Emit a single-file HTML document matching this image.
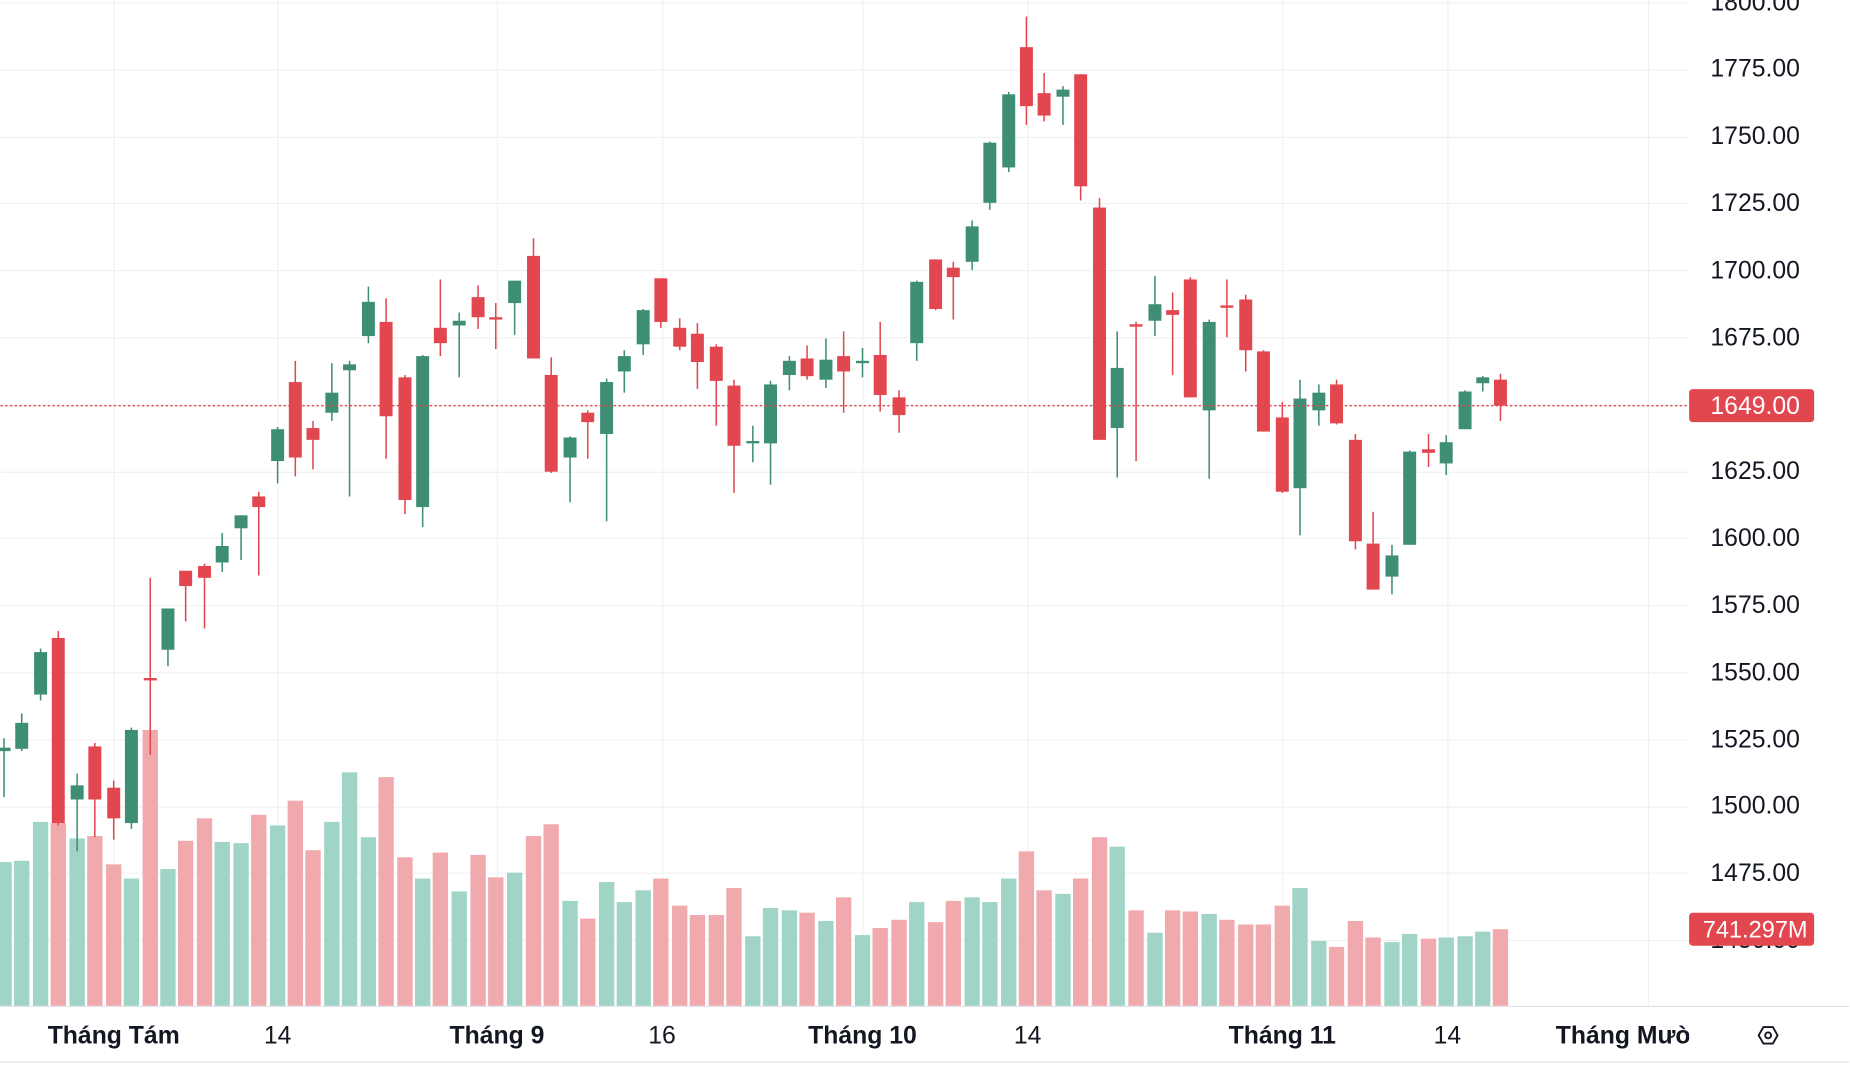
<!DOCTYPE html>
<html><head><meta charset="utf-8"><style>
html,body{margin:0;padding:0;background:#fff;}
svg{display:block;font-family:"Liberation Sans",sans-serif;}
</style></head><body>
<svg id="c" width="1850" height="1066" viewBox="0 0 1568 904" xmlns="http://www.w3.org/2000/svg">
<rect width="1568" height="904" fill="#fff"/>
<g id="grid" stroke="#f0f1f3" stroke-width="1"></g>
<g id="vol"></g>
<g id="cand"></g>
<line x1="0" y1="344" x2="1432" y2="344" stroke="#e2464f" stroke-width="1.2" stroke-dasharray="2,2"/>
<line x1="0" y1="853.5" x2="1568" y2="853.5" stroke="#e0e3eb"/>
<line x1="0" y1="900.5" x2="1568" y2="900.5" stroke="#e0e3eb"/>
<g font-size="21" fill="#131722" text-anchor="middle">
<text x="1488" y="9">1800.00</text>
<text x="1488" y="65">1775.00</text>
<text x="1488" y="122">1750.00</text>
<text x="1488" y="179">1725.00</text>
<text x="1488" y="236">1700.00</text>
<text x="1488" y="293">1675.00</text>
<text x="1488" y="406">1625.00</text>
<text x="1488" y="463">1600.00</text>
<text x="1488" y="520">1575.00</text>
<text x="1488" y="577">1550.00</text>
<text x="1488" y="634">1525.00</text>
<text x="1488" y="690">1500.00</text>
<text x="1488" y="747">1475.00</text>
<text x="1488" y="804">1450.00</text>
</g>
<rect x="1432" y="330" width="106" height="28" rx="3" fill="#e2464f"/>
<text x="1488" y="351" font-size="21" fill="#fff" text-anchor="middle">1649.00</text>
<rect x="1432" y="774" width="106" height="28" rx="3" fill="#e2464f"/>
<text x="1488" y="795" font-size="20" fill="#fff" text-anchor="middle">741.297M</text>
<g font-size="21" fill="#131722" text-anchor="middle">
<text x="96" y="885" font-weight="bold">Tháng Tám</text>
<text x="235" y="885">14</text>
<text x="421" y="885" font-weight="bold">Tháng 9</text>
<text x="561" y="885">16</text>
<text x="731" y="885" font-weight="bold">Tháng 10</text>
<text x="871" y="885">14</text>
<text x="1087" y="885" font-weight="bold">Tháng 11</text>
<text x="1227" y="885">14</text>
<text x="1380" y="885" font-weight="bold">Tháng Mười</text>
</g>
<rect x="1432" y="862" width="136" height="36" fill="#fff"/>
<polygon points="1491,878 1495,871 1503,871 1507,878 1503,885 1495,885" fill="none" stroke="#131722" stroke-width="1.6"/>
<circle cx="1499" cy="878" r="2.5" fill="none" stroke="#131722" stroke-width="1.6"/>
</svg>
<script>
var d=[
[3,'g',634,637,626,676,731],[18,'g',613,635,605,637,730],[34,'g',553,589,550,594,697],[49,'r',541,698,535,700,698],
[65,'g',666,678,656,722,711],[80,'r',633,678,630,710,709],[96,'r',668,694,662,712,733],[111,'g',619,698,617,703,745],
[127,'r',575,577,490,640,619],[142,'g',516,551,516,565,737],[157,'r',484,497,484,527,713],[173,'r',480,490,478,533,694],
[188,'g',463,477,452,485,714],[204,'g',437,448,437,475,715],[219,'r',421,430,417,488,691],[235,'g',364,391,362,410,700],
[250,'r',324,388,306,404,679],[265,'r',363,373,357,398,721],[281,'g',333,350,308,357,697],[296,'g',309,314,306,421,655],
[312,'g',256,285,243,291,710],[327,'r',273,353,253,389,659],[343,'r',320,424,318,436,727],[358,'g',302,430,301,447,745],
[373,'r',278,291,237,302,723],[389,'g',272,276,265,320,756],[405,'r',252,269,242,279,725],[420,'r',269,271,257,296,744],
[436,'g',238,257,238,284,740],[452,'r',217,304,202,304,709],[467,'r',318,400,303,401,699],[483,'g',371,388,370,426,764],
[498,'r',350,358,348,389,779],[514,'g',324,368,321,442,748],[529,'g',302,315,297,333,765],[545,'g',263,292,262,301,755],
[560,'r',236,273,236,278,745],[576,'r',278,294,270,297,768],[591,'r',283,307,274,330,776],[607,'r',294,323,292,361,776],
[622,'r',327,378,322,418,753],[638,'g',374,376,361,392,794],[653,'g',326,376,323,411,770],[669,'g',306,318,302,331,772],
[684,'r',304,319,293,322,774],[700,'g',305,322,287,329,781],[715,'r',302,315,281,350,761],[731,'g',306,308,295,320,793],
[746,'r',301,335,273,349,787],[762,'r',337,352,331,367,780],[777,'g',239,291,238,306,765],[793,'r',220,262,220,263,782],
[808,'r',227,235,222,271,764],[824,'g',192,222,187,229,761],[839,'g',121,172,120,178,765],[855,'g',80,142,78,146,745],
[870,'r',40,90,14,106,722],[885,'r',79,98,62,103,755],[901,'g',76,82,73,106,758],[916,'r',63,158,63,170,745],
[932,'r',176,373,168,373,710],[947,'g',312,363,281,405,718],[963,'r',275,277,273,391,772],[979,'g',258,272,234,285,791],
[994,'r',263,267,248,318,772],[1009,'r',237,337,235,337,773],[1025,'g',273,348,271,406,775],[1040,'r',259,261,237,286,780],
[1056,'r',254,297,250,315,784],[1071,'r',298,366,297,366,784],[1087,'r',354,417,341,418,768],[1102,'g',338,414,322,454,753],
[1118,'g',333,348,326,361,798],[1133,'r',326,359,322,360,803],[1149,'r',373,459,368,466,781],[1164,'r',461,500,434,500,795],
[1180,'g',471,489,462,504,799],[1195,'g',383,462,382,462,792],[1211,'r',381,384,368,396,796],[1226,'g',375,393,369,403,795],
[1242,'g',332,364,331,364,794],[1257,'g',320,325,319,332,790],[1272,'r',322,344,317,357,788]];
var NS='http://www.w3.org/2000/svg';
function el(p,t,a){var e=document.createElementNS(NS,t);for(var k in a)e.setAttribute(k,a[k]);p.appendChild(e);return e;}
var G=document.getElementById('grid'),V=document.getElementById('vol'),C=document.getElementById('cand');
[96,235,421,561,731,871,1087,1227,1397].forEach(function(x){el(G,'line',{x1:x+.5,y1:0,x2:x+.5,y2:853});});
for(var i=0;i<15;i++){var y=Math.round(2+i*56.8)+.5;el(G,'line',{x1:0,y1:y,x2:1432,y2:y});}
d.forEach(function(c){
 var g=c[1]=='g',col=g?'#3e8e75':'#e2464f',vc=g?'#9fd4c6':'#f0a9ad';
 el(V,'rect',{x:c[0]-6.5,y:c[6],width:13,height:853-c[6],fill:vc});
 el(C,'line',{x1:c[0],y1:c[4],x2:c[0],y2:c[5],stroke:col,'stroke-width':1.3});
 var h=Math.max(c[3]-c[2],2);
 el(C,'rect',{x:c[0]-5.5,y:c[2],width:11,height:h,fill:col});
});
</script>
</body></html>
